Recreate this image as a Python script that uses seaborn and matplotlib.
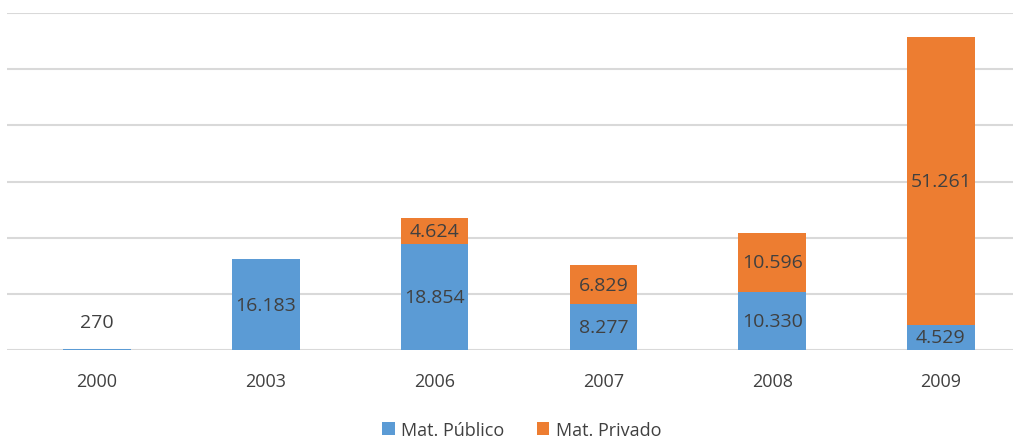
import matplotlib
matplotlib.use("Agg")
import matplotlib.pyplot as plt
import seaborn as sns
import pandas as pd
from matplotlib.patches import Patch

years = ["2000", "2003", "2006", "2007", "2008", "2009"]
publico = [270, 16183, 18854, 8277, 10330, 4529]
privado = [0, 0, 4624, 6829, 10596, 51261]
series_names = ["Mat. Público", "Mat. Privado"]

BLUE = "#5B9BD5"
ORANGE = "#ED7D31"
TXT = "#404040"
GRID = "#D9D9D9"

sns.set_theme(style="white")
plt.rcParams["font.family"] = ["Open Sans", "DejaVu Sans"]

def fmt(v):
    return f"{v:,}".replace(",", ".")

totals = [a + b for a, b in zip(publico, privado)]
df = pd.DataFrame({"year": years, "publico": publico, "privado": privado, "total": totals})

fig = plt.figure(figsize=(10.13, 4.39), dpi=100)
ax = fig.add_axes([7 / 1013, 0.2, 1 - 7 / 1013, 0.768])

sns.barplot(data=df, x="year", y="total", color=ORANGE, saturation=1, width=0.4,
            linewidth=0, edgecolor="none", ax=ax)
sns.barplot(data=df, x="year", y="publico", color=BLUE, saturation=1, width=0.4,
            linewidth=0, edgecolor="none", ax=ax)

ax.set_ylim(0, 60000)
ax.set_xlim(-0.533, 5.427)
ax.set_yticks(range(0, 60001, 10000))
ax.set_yticklabels([])
ax.yaxis.grid(True, color=GRID, linewidth=1.5)
ax.set_axisbelow(True)
for s in ax.spines.values():
    s.set_visible(False)
ax.set_xlabel("")
ax.set_ylabel("")
ax.tick_params(axis="x", length=0, pad=16, labelsize=13, labelcolor=TXT)
ax.tick_params(axis="y", length=0)

for i, (p, q) in enumerate(zip(publico, privado)):
    if p < 2000:
        ax.annotate(fmt(p), (i, p), xytext=(0, 19), textcoords="offset points",
                    ha="center", va="center", fontsize=14, color=TXT)
    else:
        ax.text(i, p / 2, fmt(p), ha="center", va="center", fontsize=14, color=TXT)
    if q > 0:
        ax.text(i, p + q / 2, fmt(q), ha="center", va="center", fontsize=14, color=TXT)

handles = [Patch(facecolor=BLUE, edgecolor="none"), Patch(facecolor=ORANGE, edgecolor="none")]
fig.legend(handles, series_names, loc="center", bbox_to_anchor=(0.515, 0.018),
           ncol=2, frameon=False, fontsize=13, handlelength=0.7, handleheight=0.7,
           handletextpad=0.35, columnspacing=1.8, labelcolor=TXT)

fig.savefig("out.png", dpi=100, facecolor="white")
